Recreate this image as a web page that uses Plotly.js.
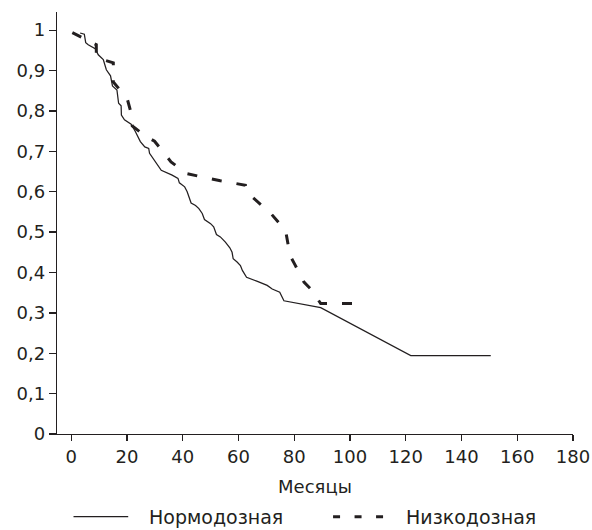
<!DOCTYPE html>
<html>
<head>
<meta charset="utf-8">
<script src="https://cdn.plot.ly/plotly-3.0.1.min.js"></script>
<style>html,body{margin:0;padding:0;background:#fff;}#chart{width:592px;height:530px;}</style>
</head>
<body>
<div id="chart"></div>
<script>
// Нормодозная (solid)
const normX = [3.2, 4.7, 5.2, 6.1, 8.6, 9.7, 11.5, 12.6, 14.1, 14.8, 16.4, 17.0, 17.9, 18.0, 19.1, 21.5, 23.0, 24.8, 26.4, 27.8, 28.1, 30.2, 32.3, 36.2, 38.3, 38.8, 40.7, 41.6, 43.0, 44.6, 45.8, 47.0, 47.8, 50.0, 51.1, 52.1, 53.5, 55.3, 56.9, 57.7, 58.1, 59.5, 60.7, 61.4, 62.9, 66.8, 70.3, 72.1, 74.8, 76.3, 89.5, 121.8, 150.5];
const normY = [0.993, 0.990, 0.969, 0.964, 0.954, 0.939, 0.927, 0.902, 0.887, 0.862, 0.852, 0.819, 0.813, 0.790, 0.778, 0.767, 0.749, 0.724, 0.711, 0.707, 0.695, 0.674, 0.653, 0.641, 0.633, 0.622, 0.612, 0.600, 0.572, 0.566, 0.558, 0.546, 0.531, 0.521, 0.513, 0.494, 0.488, 0.475, 0.461, 0.450, 0.434, 0.426, 0.417, 0.405, 0.388, 0.378, 0.368, 0.359, 0.351, 0.330, 0.313, 0.194, 0.194];
// Низкодозная (dashed)
const lowX = [0.4, 7.6, 9.0, 9.0, 14.1, 15.1, 15.1, 20.1, 21.2, 21.9, 26.6, 29.9, 35.8, 41.3, 53.5, 62.5, 62.9, 68.8, 71.5, 76.9, 77.6, 78.5, 80.2, 83.5, 85.8, 89.5, 103.6];
const lowY = [0.994, 0.969, 0.964, 0.932, 0.922, 0.919, 0.872, 0.830, 0.802, 0.763, 0.738, 0.725, 0.674, 0.645, 0.627, 0.616, 0.599, 0.562, 0.547, 0.504, 0.479, 0.442, 0.420, 0.376, 0.360, 0.323, 0.323];
const seriesNames = ['Нормодозная', 'Низкодозная'];
const xTicks = [0, 20, 40, 60, 80, 100, 120, 140, 160, 180];
const yTicks = [0, 0.1, 0.2, 0.3, 0.4, 0.5, 0.6, 0.7, 0.8, 0.9, 1];
const xTitle = 'Месяцы';

const ink = '#231f20';
const fam = 'DejaVu Sans, Verdana, sans-serif';
const font = {family: fam, size: 18, color: ink};
const legFont = {family: fam, size: 19, color: ink};

const traces = [
  {x: normX, y: normY, name: seriesNames[0], mode: 'lines', line: {color: ink, width: 1.25}, showlegend: false},
  {x: lowX, y: lowY, name: seriesNames[1], mode: 'lines', line: {color: ink, width: 3, dash: '10px,15px'}, showlegend: false}
];

// Legend keys below the plot (paper coordinates)
const legY = -0.196;
const shapes = [
  {type: 'line', xref: 'paper', yref: 'paper', x0: 0.032, x1: 0.138, y0: legY, y1: legY, line: {color: ink, width: 1.25}},
  {type: 'line', xref: 'paper', yref: 'paper', x0: 0.535, x1: 0.634, y0: legY, y1: legY, line: {color: ink, width: 3, dash: '7px,14.5px'}}
];
const annotations = [
  {xref: 'paper', yref: 'paper', x: 0.177, y: legY, xanchor: 'left', yanchor: 'middle', text: seriesNames[0], showarrow: false, font: legFont, borderpad: 0},
  {xref: 'paper', yref: 'paper', x: 0.674, y: legY, xanchor: 'left', yanchor: 'middle', text: seriesNames[1], showarrow: false, font: legFont, borderpad: 0}
];

const layout = {
  width: 592, height: 530,
  margin: {l: 57, r: 19, t: 12, b: 96},
  paper_bgcolor: '#fff', plot_bgcolor: '#fff',
  font: font,
  separators: ', ',
  showlegend: false,
  shapes: shapes,
  annotations: annotations,
  xaxis: {
    range: [-5.1, 180], tickvals: xTicks, ticks: 'outside', ticklen: 6, tickwidth: 1.3, tickcolor: ink,
    showline: true, linecolor: ink, linewidth: 1.3, showgrid: false, zeroline: false, automargin: false,
    tickfont: font, title: {text: xTitle, font: font, standoff: 14}
  },
  yaxis: {
    range: [0, 1.045], tickvals: yTicks, ticks: 'outside', ticklen: 7, tickwidth: 1.3, tickcolor: ink,
    showline: true, linecolor: ink, linewidth: 1.3, showgrid: false, zeroline: false, automargin: false,
    tickfont: font
  }
};

Plotly.newPlot('chart', traces, layout, {displayModeBar: false, staticPlot: true});
</script>
</body>
</html>
